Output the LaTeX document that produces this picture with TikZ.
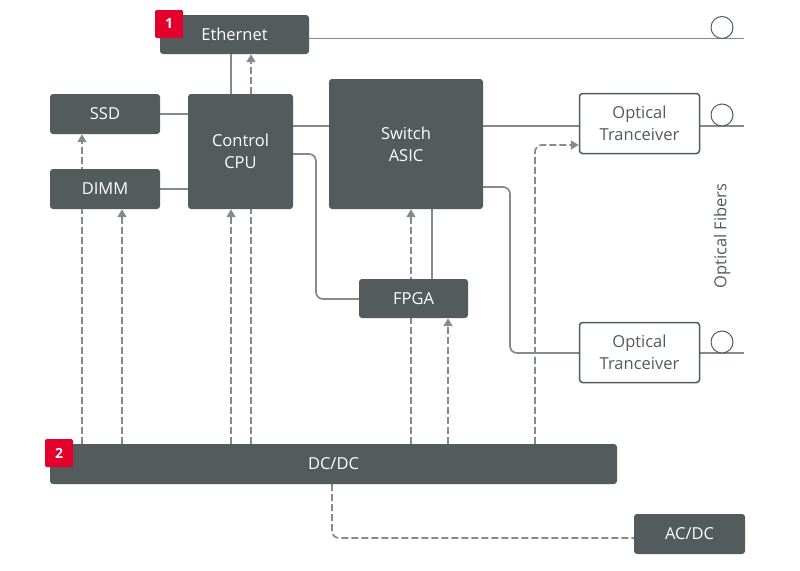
\documentclass[tikz,border=0pt]{standalone}
\usepackage{fontspec}
\setmainfont{Open Sans}
\usetikzlibrary{arrows.meta,backgrounds}
\definecolor{boxc}{HTML}{535B5C}
\definecolor{linec}{HTML}{858A8A}
\definecolor{badgec}{HTML}{E3002C}
\tikzset{
  darkbox/.style={draw=none,fill=boxc,rounded corners=3pt,text=white,align=center,font=\fontsize{16.5}{22}\selectfont,inner sep=0pt},
  whitebox/.style={draw=boxc,line width=1.5pt,fill=white,rounded corners=3pt,text=boxc,align=center,font=\fontsize{16.5}{22}\selectfont,inner sep=0pt},
  badge/.style={fill=badgec,rounded corners=1.5pt,text=white,font=\fontsize{14}{14}\selectfont\bfseries,inner sep=0pt,minimum width=28pt,minimum height=28pt},
  conn/.style={draw=linec,line width=1.7pt},
  pwr/.style={draw=linec,line width=1.7pt,dash pattern=on 7pt off 3pt},
  pwrarrow/.style={pwr,-{Triangle[length=8pt,width=9pt]}},
  fibercirc/.style={draw=boxc,line width=1pt,fill=white}
}
\begin{document}
\begin{tikzpicture}[x=1pt,y=-1pt]
\useasboundingbox (0,0) rectangle (800,570);
% nodes
\node[darkbox,minimum width=149pt,minimum height=39pt] (eth) at (234.5,34.5) {Ethernet};
\node[darkbox,minimum width=110pt,minimum height=40pt] (ssd) at (105,114) {SSD};
\node[darkbox,minimum width=110pt,minimum height=40pt] (dimm) at (105,189) {DIMM};
\node[darkbox,minimum width=105pt,minimum height=115pt] (cpu) at (240.5,151.5) {Control\\CPU};
\node[darkbox,minimum width=154pt,minimum height=130pt] (asic) at (406,144) {Switch\\ASIC};
\node[darkbox,minimum width=109pt,minimum height=39pt] (fpga) at (413.5,298.5) {FPGA};
\node[whitebox,minimum width=120pt,minimum height=60pt] (ot1) at (639.5,123.5) {Optical\\Tranceiver};
\node[whitebox,minimum width=120pt,minimum height=60pt] (ot2) at (639.5,352.5) {Optical\\Tranceiver};
\node[darkbox,minimum width=567pt,minimum height=40pt] (dcdc) at (333.5,464) {DC/DC};
\node[darkbox,minimum width=111pt,minimum height=40pt] (acdc) at (689.5,534) {AC/DC};
\node[badge] (b1) at (169,24) {1};
\node[badge] (b2) at (59,453) {2};
\node[rotate=90,text=boxc,font=\fontsize{16.5}{18}\selectfont] (fib) at (722,236) {Optical Fibers};
% fiber ends
\coordinate (f1) at (744,38.5);
\coordinate (f2) at (744,126);
\coordinate (f3) at (744,353);
\begin{scope}[on background layer]
% solid links
\draw[conn] (eth.south -| 231,0) -- (cpu.north -| 231,0);
\draw[conn] (eth.east |- 0,38.5) -- (f1);
\draw[conn] (ssd.east) -- (cpu.west |- ssd.east);
\draw[conn] (dimm.east) -- (cpu.west |- dimm.east);
\draw[conn] (cpu.east |- 0,126) -- (asic.west |- 0,126);
\draw[conn,rounded corners=7pt] (cpu.east |- 0,154) -- (316,154) -- (316,299) -- (fpga.west |- 0,299);
\draw[conn] (fpga.north -| 432,0) -- (asic.south -| 432,0);
\draw[conn] (asic.east |- 0,126) -- (ot1.west |- 0,126);
\draw[conn] (ot1.east |- 0,126) -- (f2);
\draw[conn,rounded corners=7pt] (asic.east |- 0,187) -- (510,187) -- (510,353) -- (ot2.west |- 0,353);
\draw[conn] (ot2.east |- 0,353) -- (f3);
% power
\draw[pwrarrow] (dcdc.north -| 82,0) -- (ssd.south -| 82,0);
\draw[pwrarrow] (dcdc.north -| 122,0) -- (dimm.south -| 122,0);
\draw[pwrarrow] (dcdc.north -| 231,0) -- (cpu.south -| 231,0);
\draw[pwrarrow] (dcdc.north -| 251,0) -- (eth.south -| 251,0);
\draw[pwrarrow] (dcdc.north -| 411,0) -- (asic.south -| 411,0);
\draw[pwrarrow] (dcdc.north -| 448,0) -- (fpga.south -| 448,0);
\draw[pwrarrow,rounded corners=7pt] (dcdc.north -| 535,0) -- (535,145) -- (ot1.west |- 0,145);
\draw[pwr,rounded corners=7pt] (dcdc.south -| 332,0) -- (332,538) -- (acdc.west |- 0,538);
\end{scope}
\draw[fibercirc] (722,27.5) circle (11pt);
\draw[fibercirc] (722,115) circle (11pt);
\draw[fibercirc] (722,342) circle (11pt);
\end{tikzpicture}
\end{document}
